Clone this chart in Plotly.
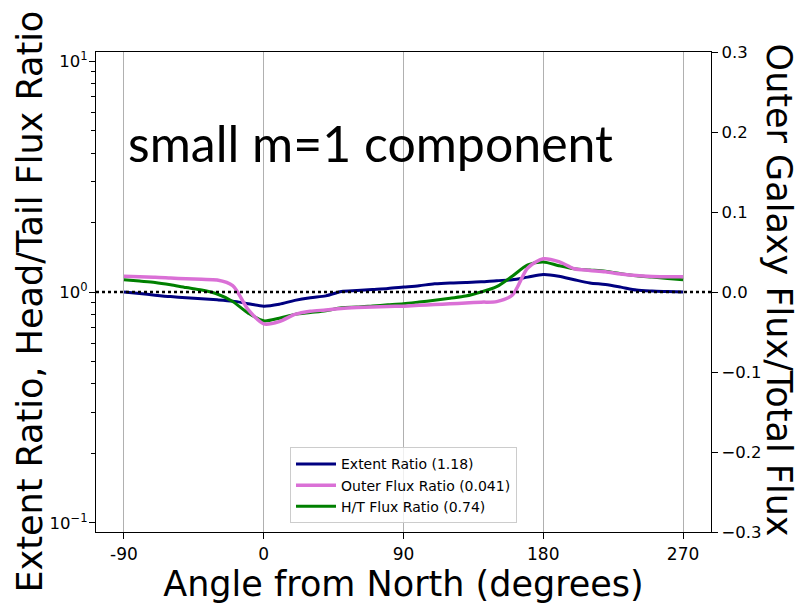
import plotly.graph_objects as go

angles = [-90, -80, -70, -60, -50, -40, -30, -20, -10, 0, 10, 20, 30, 40, 50, 60, 70, 80, 90,
          100, 110, 120, 130, 140, 150, 160, 170, 180, 190, 200, 210, 220, 230, 240, 250, 260, 270]

extent_ratio = [1.00, 0.985, 0.969, 0.955, 0.945, 0.934, 0.925, 0.913, 0.89, 0.868, 0.885, 0.92,
                0.945, 0.962, 1.005, 1.015, 1.025, 1.035, 1.05, 1.065, 1.085, 1.095, 1.10, 1.107,
                1.12, 1.13, 1.16, 1.19, 1.17, 1.13, 1.095, 1.078, 1.05, 1.02, 1.01, 1.005, 1.00]

outer_flux = [0.0198, 0.019, 0.0185, 0.0175, 0.0165, 0.0158, 0.015, 0.008, -0.022, -0.0398,
              -0.037, -0.028, -0.024, -0.0225, -0.0206, -0.0195, -0.0187, -0.018, -0.0177,
              -0.0167, -0.0156, -0.0148, -0.0138, -0.0127, -0.012, -0.004, 0.030, 0.0415,
              0.038, 0.029, 0.027, 0.0252, 0.0225, 0.0205, 0.0195, 0.019, 0.019]

ht_flux = [1.13, 1.115, 1.10, 1.075, 1.045, 1.02, 0.98, 0.91, 0.81, 0.75, 0.77, 0.80, 0.815,
           0.83, 0.854, 0.86, 0.87, 0.88, 0.89, 0.905, 0.921, 0.94, 0.96, 1.0, 1.055, 1.17,
           1.31, 1.35, 1.30, 1.26, 1.245, 1.23, 1.20, 1.175, 1.16, 1.145, 1.13]

x_ticks = [-90, 0, 90, 180, 270]
x_ticklabels = ["-90", "0", "90", "180", "270"]
left_ticks = [0.1, 1, 10]
left_ticklabels = ["10<sup>\u22121</sup>", "10<sup>0</sup>", "10<sup>1</sup>"]
left_minor = [m * 10 ** e for e in (-1, 0) for m in range(2, 10)]
right_ticks = [-0.3, -0.2, -0.1, 0.0, 0.1, 0.2, 0.3]

FONT = "DejaVu Sans"
LOG_RANGE = [-1.04, 1.04]

all_left_vals = left_ticks + left_minor
all_left_text = left_ticklabels + ["" for _ in left_minor]

fig = go.Figure()
fig.add_trace(go.Scatter(x=angles, y=extent_ratio, mode="lines", name="Extent Ratio (1.18)",
                         line=dict(color="#000080", width=3, shape="spline", smoothing=0.8),
                         yaxis="y"))
fig.add_trace(go.Scatter(x=angles, y=outer_flux, mode="lines", name="Outer Flux Ratio (0.041)",
                         line=dict(color="orchid", width=3.5, shape="spline", smoothing=0.8),
                         yaxis="y2"))
fig.add_trace(go.Scatter(x=angles, y=ht_flux, mode="lines", name="H/T Flux Ratio (0.74)",
                         line=dict(color="#008000", width=3, shape="spline", smoothing=0.8),
                         yaxis="y"))

fig.add_shape(type="line", xref="paper", x0=0, x1=1, yref="y2", y0=0, y1=0,
              line=dict(color="black", width=2.5, dash="dot"), layer="above")

fig.update_layout(
    width=811, height=605,
    margin=dict(l=96, r=100, t=52, b=73),
    paper_bgcolor="white", plot_bgcolor="white",
    font=dict(family=FONT, color="black", size=16),
    showlegend=True,
    legend=dict(x=0.5, xanchor="center", y=0.018, yanchor="bottom",
                bgcolor="rgba(255,255,255,0.8)", bordercolor="#cccccc", borderwidth=1,
                font=dict(family=FONT, size=14), itemwidth=40, tracegroupgap=0),
    xaxis=dict(range=[-108, 288], tickmode="array", tickvals=x_ticks, ticktext=x_ticklabels,
               showgrid=True, gridcolor="#b0b0b0", gridwidth=1, zeroline=False,
               ticks="outside", ticklen=6, tickcolor="black", tickfont=dict(size=17),
               showline=True, linecolor="black", linewidth=1.2, mirror=True,
               title=dict(text="Angle from North (degrees)", font=dict(size=35), standoff=6)),
    yaxis=dict(type="log", range=LOG_RANGE, tickmode="array", tickvals=all_left_vals,
               ticktext=all_left_text, showgrid=False, zeroline=False,
               ticks="outside", ticklen=4, tickwidth=1, tickcolor="black",
               tickfont=dict(size=16.5),
               showline=True, linecolor="black", linewidth=1.2),
    yaxis3=dict(type="log", range=LOG_RANGE, overlaying="y", side="left", anchor="x",
                tickmode="array", tickvals=left_ticks, showticklabels=False,
                ticks="outside", ticklen=6, tickwidth=1.2, tickcolor="black", showgrid=False,
                zeroline=False, showline=False),
    yaxis2=dict(overlaying="y", side="right", range=[-0.3, 0.3], tickmode="array",
                tickvals=right_ticks, tickformat=".1f", showgrid=False, zeroline=False,
                ticks="outside", ticklen=6, tickcolor="black", tickfont=dict(size=16.5),
                showline=True, linecolor="black", linewidth=1.2),
)

# invisible trace to activate the major-tick overlay axis
fig.add_trace(go.Scatter(x=[angles[0]], y=[extent_ratio[0]], yaxis="y3", mode="markers",
                         marker=dict(opacity=0), showlegend=False, hoverinfo="skip"))

fig.add_annotation(text="small m=1 component", xref="paper", yref="paper", x=0.048, y=0.81,
                   xanchor="left", yanchor="middle", showarrow=False,
                   font=dict(family="Lato", size=50, color="black"))
fig.add_annotation(text="Extent Ratio, Head/Tail Flux Ratio", xref="paper", yref="paper",
                   x=(30 - 96) / 615, y=0.48, xanchor="center", yanchor="middle",
                   textangle=-90, showarrow=False, font=dict(family=FONT, size=35, color="black"))
fig.add_annotation(text="Outer Galaxy Flux/Total Flux", xref="paper", yref="paper",
                   x=(779 - 96) / 615, y=0.505, xanchor="center", yanchor="middle",
                   textangle=90, showarrow=False, font=dict(family=FONT, size=35, color="black"))

fig.write_html("out.html")
